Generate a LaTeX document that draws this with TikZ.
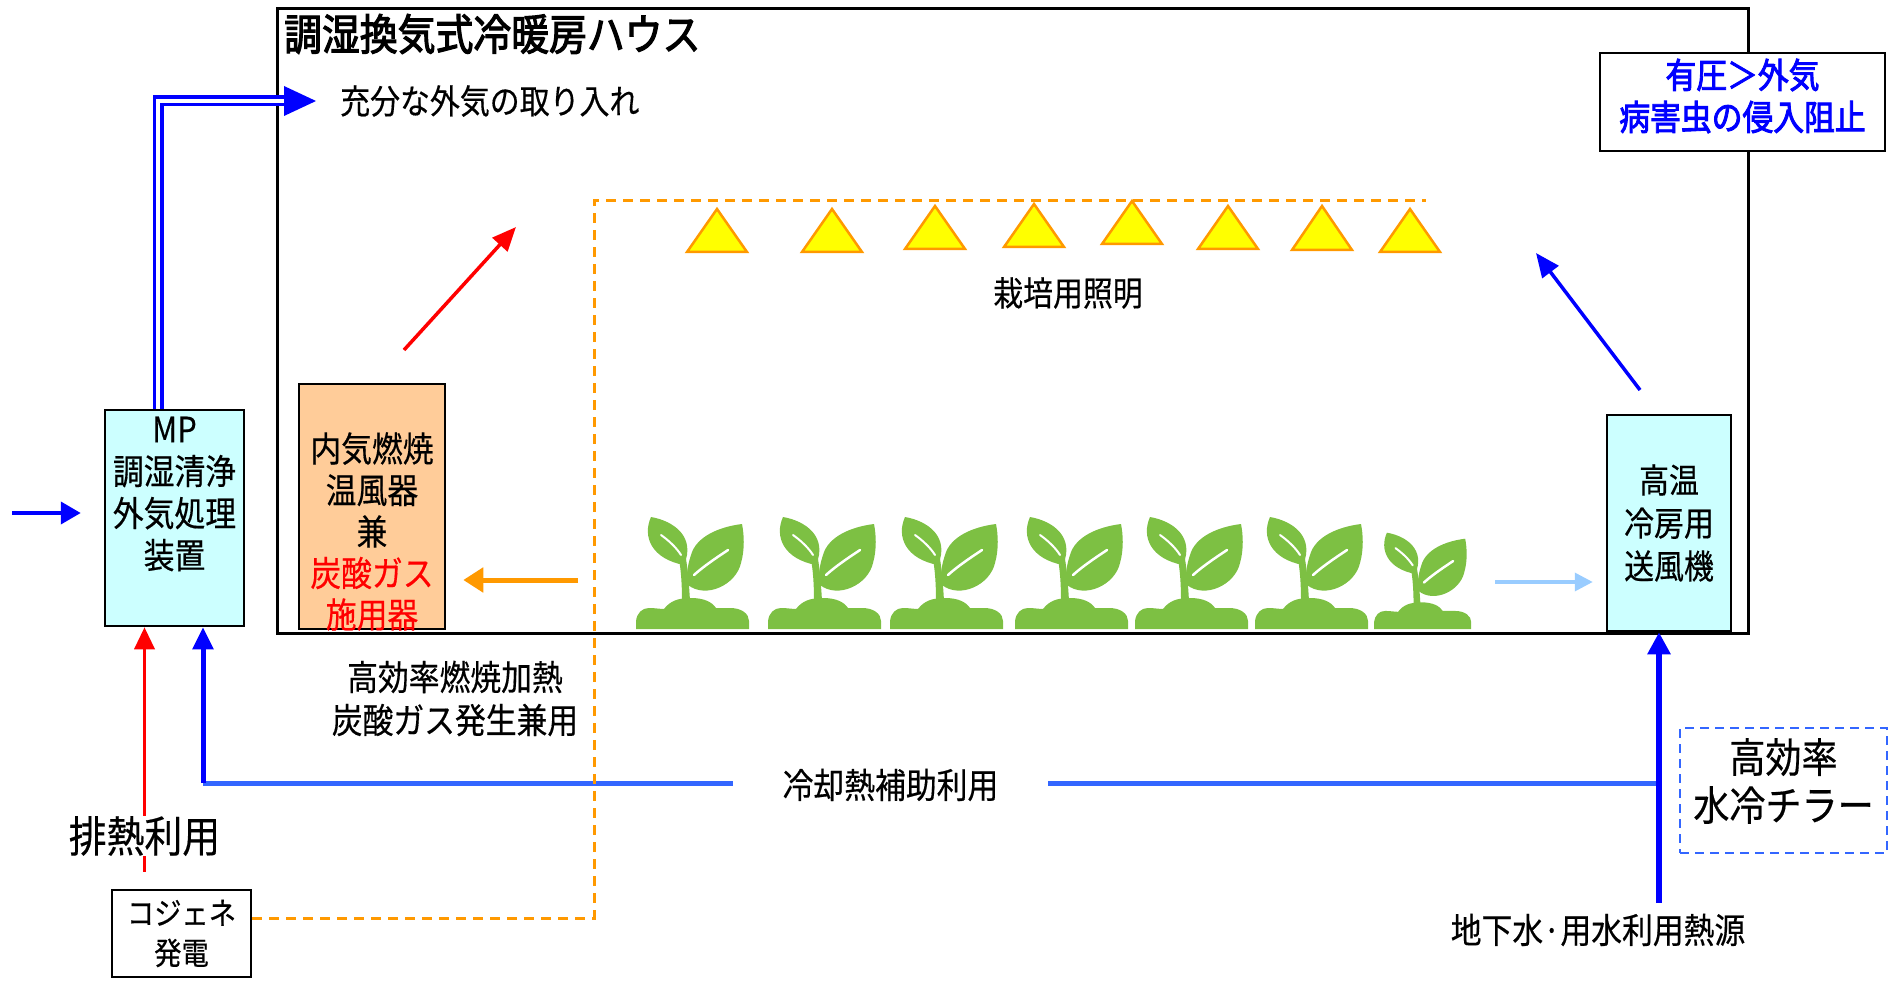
\documentclass[tikz,border=0pt]{standalone}
\usepackage{fontspec}
\setmainfont{Noto Sans CJK JP}[FakeStretch=0.88, FakeBold=0.4, BoldFeatures={FakeBold=2.2}, AutoFakeBold=2.5]
\usetikzlibrary{arrows.meta}

\definecolor{cyanfill}{HTML}{CCFFFF}
\definecolor{peach}{HTML}{FFCC99}
\definecolor{lamporange}{HTML}{FF9900}
\definecolor{pipeblue}{HTML}{3366FF}
\definecolor{pureblue}{HTML}{0000FF}
\definecolor{leafgreen}{HTML}{7DC043}
\definecolor{paleblue}{HTML}{99CCFF}
\definecolor{lampyellow}{HTML}{FFFF00}

\newcommand\fsz[2]{\fontsize{#1}{#2}\selectfont}

\tikzset{
  unitbox/.style={draw=black, line width=2.5pt, inner sep=0pt},
  label/.style={inner sep=0pt, align=center},
  lamp/.style={fill=lampyellow, draw=lamporange, line width=2.5pt, line join=miter},
  seedling/.pic={
    \begin{scope}[yscale=-1]
      % soil mound
      \fill[leafgreen] (0,0) -- (0,8) .. controls (1,16) and (6,21) .. (13,21)
        .. controls (19,21) and (24,20) .. (28,20)
        .. controls (34,28) and (42,31) .. (55,31)
        .. controls (68,31) and (76,27) .. (80,21)
        .. controls (84,21) and (88,21) .. (94,21)
        .. controls (106,21) and (113,15) .. (113,8) -- (113,0) -- cycle;
      % stem
      \fill[leafgreen] (46,28) .. controls (46,45) and (45,58) .. (43,70) -- (50,70)
        .. controls (52,58) and (53,45) .. (54,28) -- cycle;
      % left leaf
      \fill[leafgreen] (48,64) .. controls (16,70) and (6,92) .. (15,112)
        .. controls (38,108) and (60,92) .. (48,64) -- cycle;
      % right leaf
      \fill[leafgreen] (52,44) .. controls (70,30) and (100,44) .. (105,66)
        .. controls (109,80) and (108,95) .. (106,105)
        .. controls (82,102) and (60,92) .. (55,74)
        .. controls (51,62) and (50,52) .. (52,44) -- cycle;
      % leaf veins
      \draw[white, line width=2pt, line cap=round] (45,74) .. controls (40,82) and (32,89) .. (25,94);
      \draw[white, line width=2.5pt, line cap=round] (58,54) .. controls (68,63) and (80,71) .. (92,79);
    \end{scope}
  }
}

\begin{document}
\begin{tikzpicture}[x=1pt, y=-1pt]
\useasboundingbox (0,0) rectangle (1892,981);

% greenhouse enclosure
\node[unitbox, minimum width=1471pt, minimum height=625pt] (house) at (1013,321) {};
\node[label, anchor=west, font=\bfseries\fsz{43}{50}] (title) at (284,34) {調湿換気式冷暖房ハウス};

% outside air intake
\node[label, anchor=west, font=\fsz{34}{40}] (intake) at (340,101) {充分な外気の取り入れ};

% equipment boxes
\node[unitbox, fill=cyanfill, minimum width=139pt, minimum height=216pt] (mp) at (174.5,518) {};
\node[label, font=\fsz{35}{42}] (mptext) at (174.5,494) {MP\\調湿清浄\\外気処理\\装置};

\node[unitbox, fill=peach, minimum width=146pt, minimum height=245pt] (heater) at (372,506.5) {};
\node[label, font=\fsz{35}{41.5}] (heatertext) at (372,531.5)
  {内気燃焼\\温風器\\兼\\\textcolor{red}{炭酸ガス}\\\textcolor{red}{施用器}};

\node[unitbox, fill=cyanfill, minimum width=124pt, minimum height=216pt, align=center,
      font=\fsz{34}{43}] (blower) at (1669,523) {高温\\冷房用\\送風機};

\node[unitbox, fill=white, minimum width=285pt, minimum height=98pt] (pressure) at (1742.5,102) {};
\node[label, text=pureblue, font=\bfseries\fsz{35}{42}] (pressuretext) at (1742.5,96)
  {有圧＞外気\\病害虫の侵入阻止};

\node[draw=pipeblue, line width=2pt, dash pattern=on 9pt off 6pt, inner sep=0pt,
      minimum width=207pt, minimum height=125pt] (chiller) at (1783.5,790.5) {};
\node[label, font=\fsz{41}{48}] (chillertext) at (1783.5,781) {高効率\\水冷チラー};

\node[unitbox, fill=white, minimum width=139pt, minimum height=87pt, align=center,
      font=\fsz{31}{40}] (cogen) at (181.5,933.5) {コジェネ\\発電};

% labels
\node[label, font=\fsz{35}{43}] (burn) at (455,698.5) {高効率燃焼加熱\\炭酸ガス発生兼用};
\node[label, font=\fsz{34}{40}] (lighting) at (1068,293) {栽培用照明};
\node[label, font=\fsz{43}{50}] (exhaust) at (144.5,836) {排熱利用};
\node[label, font=\fsz{35}{40}] (groundwater) at (1598,930) {地下水·用水利用熱源};

% cultivation lamps
\foreach \x/\ya/\yb in {717/209/252, 832/209/252, 935/206/249, 1034/204/247,
                        1132/201/244, 1228/206/249, 1322/206/250, 1410/209/252} {
  \draw[lamp] (\x,\ya) -- (\x+30,\yb) -- (\x-30,\yb) -- cycle;
}

% seedlings
\foreach \x in {636, 768, 890, 1015, 1135, 1255} {
  \pic at (\x,629) {seedling};
}
\pic[scale=0.86] at (1374,629) {seedling};

% named points for free arrow ends
\coordinate (airin) at (12,513);
\coordinate (corner) at (158,101);
\coordinate (inlet) at (284,101);
\coordinate (coolL) at (203,783);
\coordinate (src) at (1659,903);
\coordinate (lampL) at (594,201);
\coordinate (lampR) at (1426,201);
\coordinate (co2from) at (578,580);
\coordinate (warmfrom) at (404,350);
\coordinate (warmto) at (516,227);
\coordinate (coolfrom) at (1640,390);
\coordinate (coolto) at (1536,253);
\coordinate (returnfrom) at (1495,582);

% fresh air supply: double duct into the house
\draw[draw=pureblue, double=white, line width=3.5pt, double distance=4pt]
  ([xshift=-16.5pt]mp.north) -- (corner) -- (inlet);
\fill[pureblue] (inlet) ++(0,-15) -- ++(32,15) -- ++(-32,15) -- cycle;

% outside air into MP unit
\draw[pureblue, line width=4pt, -{Triangle[length=20pt, width=22pt]}, shorten >=23pt]
  (airin) -- (airin -| mp.west);

% cogeneration heat to MP unit
\draw[red, line width=3.5pt, dash pattern=on 17pt off 17pt, dash phase=17pt]
  (cogen.north -| exhaust.south) -- (exhaust.south);
\draw[red, line width=3.5pt, -{Triangle[length=22pt, width=20pt]}]
  (exhaust.north) -- (exhaust.north |- mp.south);

% cooling heat supply line
\draw[pipeblue, line width=5pt] (coolL) -- (coolL -| src);
\node[label, fill=white, inner xsep=50pt, font=\fsz{35}{40}] (coolaux) at (890.5,785) {冷却熱補助利用};
\draw[pureblue, line width=5pt, -{Triangle[length=22pt, width=20pt]}]
  (coolL) -- (coolL |- mp.south);
\draw[pureblue, line width=6pt, -{Triangle[length=22pt, width=22pt]}]
  (src) -- (src |- blower.south);

% cogeneration exhaust CO2 route to lamps / heater
\draw[lamporange, line width=3pt, dash pattern=on 10pt off 7pt]
  ([yshift=15.5pt]cogen.east) -| (lampL) -- (lampR);
\draw[lamporange, line width=5pt, -{Triangle[length=20pt, width=24pt]}, shorten >=17pt]
  (co2from) -- (co2from -| heater.east);

% air flows inside the house
\draw[red, line width=3.5pt, -{Triangle[length=24pt, width=20pt]}] (warmfrom) -- (warmto);
\draw[pureblue, line width=3.5pt, -{Triangle[length=24pt, width=20pt]}] (coolfrom) -- (coolto);
\draw[paleblue, line width=3.5pt, -{Triangle[length=18pt, width=18pt]}, shorten >=13pt]
  (returnfrom) -- (returnfrom -| blower.west);

\end{tikzpicture}
\end{document}
